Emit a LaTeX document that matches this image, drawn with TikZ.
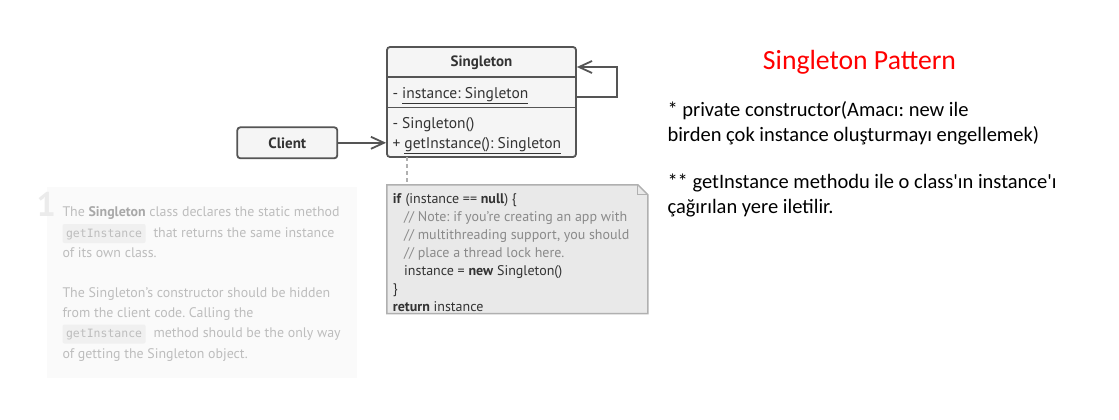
\documentclass[tikz,border=0pt]{standalone}
\usepackage{fontspec}
\setmainfont{PT Sans}
\setmonofont{DejaVu Sans Mono}
\newfontfamily\calfont{Carlito}
\usetikzlibrary{arrows.meta}
\frenchspacing
\definecolor{edgec}{HTML}{555555}
\definecolor{boxfill}{HTML}{F5F5F5}
\definecolor{txtc}{HTML}{333333}
\definecolor{notefill}{HTML}{E9E9E9}
\definecolor{notedraw}{HTML}{B0B0B0}
\definecolor{commc}{HTML}{8A8A8A}
\definecolor{panelbg}{HTML}{FAFAFA}
\definecolor{paneltxt}{HTML}{BDBDBD}
\definecolor{panelbold}{HTML}{A8A8A8}
\definecolor{numc}{HTML}{EBEBEB}
\definecolor{codebg}{HTML}{F0F0F0}
\begin{document}
\begin{tikzpicture}[x=1pt,y=-1pt,
  umlbox/.style={draw=edgec, line width=1.8pt, fill=boxfill, rounded corners=3pt, inner sep=0},
  assoc/.style={draw=edgec, line width=1.8pt, -{Straight Barb[length=13pt,width=12pt]}},
  member/.style={anchor=base west, inner sep=0, text=txtc, font=\fontsize{15.5}{18}\selectfont},
  codeline/.style={anchor=base west, inner sep=0, text=txtc, font=\fontsize{14}{16}\selectfont},
  comment/.style={codeline, text=commc},
  ptxt/.style={anchor=base west, inner sep=0, text=paneltxt, font=\fontsize{13.9}{16}\selectfont},
  pcode/.style={anchor=base west, fill=codebg, rounded corners=2pt, inner xsep=3.5pt, inner ysep=0pt, text height=13pt, text depth=6pt, text=paneltxt, font=\ttfamily\fontsize{11.5}{14}\selectfont},
  rtxt/.style={anchor=base west, inner sep=0, text=black, font=\calfont\fontsize{20.5}{24}\selectfont},
  dashline/.style={draw=notedraw, line width=1.5pt, dash pattern=on 4pt off 3pt}
]
\useasboundingbox[fill=white] (0,0) rectangle (1119,420);

% left description panel
\fill[panelbg] (46.7,186.7) rectangle (356.7,378.3);
\node[anchor=base west, inner sep=0, text=numc, font=\bfseries\fontsize{34}{34}\selectfont] (num) at (36.5,216) {1};
\node[ptxt] (p1) at (62.3,216.7) {The {\color{panelbold}\bfseries Singleton} class declares the static method};
\node[pcode] (gi1) at (62.3,237) {getInstance};
\node[ptxt] (p2) at (153.3,237) {that returns the same instance};
\node[ptxt] (p3) at (62.3,257) {of its own class.};
\node[ptxt] (p4) at (62.3,297.5) {The Singleton’s constructor should be hidden};
\node[ptxt] (p5) at (62.3,317.5) {from the client code. Calling the};
\node[pcode] (gi2) at (62.3,337.5) {getInstance};
\node[ptxt] (p6) at (153.3,337.5) {method should be the only way};
\node[ptxt] (p7) at (62.3,358) {of getting the Singleton object.};

% Singleton class
\node[umlbox, minimum width=189pt, minimum height=110pt] (S) at (481.5,102) {};
\draw[draw=edgec, line width=1.8pt] (387,77) -- (576,77);
\draw[draw=edgec, line width=1.8pt] (387,107.5) -- (576,107.5);
\node[inner sep=0, text=txtc, font=\bfseries\fontsize{15}{18}\selectfont] (title) at (481.5,63) {Singleton};
\node[member] (attr) at (392.3,98.3) {- \underline{instance: Singleton}};
\node[member] (ctor) at (392.3,128.3) {- Singleton()};
\node[member] (gi) at (392.3,148.3) {+ \underline{getInstance(): Singleton}};

% Client
\node[umlbox, minimum width=100pt, minimum height=31pt] (C) at (287.3,142.8) {};
\node[inner sep=0, text=txtc, font=\bfseries\fontsize{15}{18}\selectfont] (ctext) at (C.center) {Client};

% connectors
\draw[assoc] (C.east) -- (S.west |- C.east);
\coordinate (k1) at (617,97);
\coordinate (k2) at (617,67);
\draw[assoc] (S.east |- k1) -- (k1) -- (k2) -- (S.east |- k2);

% note
\node[minimum width=260.7pt, minimum height=128.3pt, inner sep=0] (note) at (517.35,249.15) {};
\draw[fill=notefill, draw=notedraw, line width=1.5pt]
  (note.north west) -- ([xshift=-10pt]note.north east) -- ([yshift=-10pt]note.north east)
  -- (note.south east) -- (note.south west) -- cycle;
\draw[draw=notedraw, line width=1pt] ([xshift=-10pt]note.north east) -- ([xshift=-10pt,yshift=-10pt]note.north east) -- ([yshift=-10pt]note.north east);
\coordinate (ds) at (407,157);
\draw[dashline] (ds) -- (ds |- note.north);

\node[codeline] (n1) at (392.7,203) {\textbf{if} (instance == \textbf{null}) \{};
\node[comment] (n2) at (404,221.5) {// Note: if you’re creating an app with};
\node[comment] (n3) at (404,239) {// multithreading support, you should};
\node[comment] (n4) at (404,257) {// place a thread lock here.};
\node[codeline] (n5) at (404,275) {instance = \textbf{new} Singleton()};
\node[codeline] (n6) at (392.7,293) {\}};
\node[codeline] (n7) at (392.7,311) {\textbf{return} instance};

% right text
\node[inner sep=0, anchor=base, text=red, font=\calfont\fontsize{27.7}{32}\selectfont] (rt) at (859.5,69.3) {Singleton Pattern};
\node[rtxt] (r1) at (667.3,116.7) {* private constructor(Amacı: new ile};
\node[rtxt] (r2) at (667.3,141) {birden çok instance oluşturmayı engellemek)};
\node[rtxt] (r3) at (667.3,188.3) {** getInstance methodu ile o class'ın instance'ı};
\node[rtxt] (r4) at (667.3,213.3) {çağırılan yere iletilir.};
\end{tikzpicture}
\end{document}
